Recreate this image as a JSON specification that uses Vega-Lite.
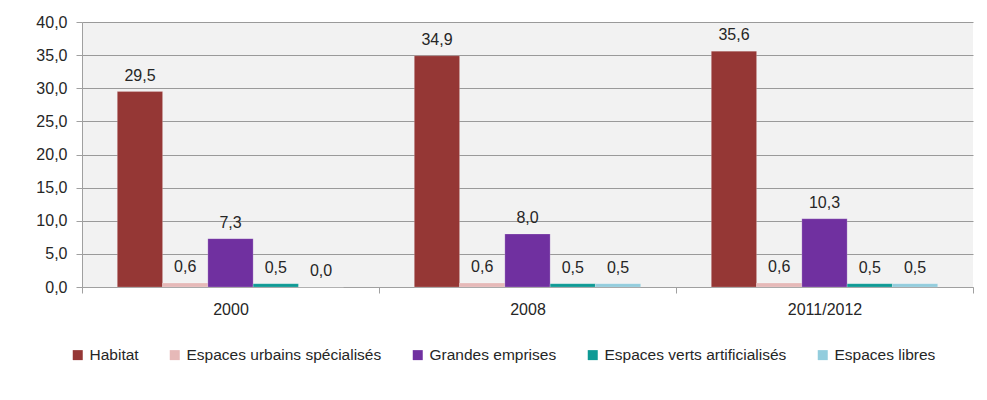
{
  "$schema": "https://vega.github.io/schema/vega-lite/v6.json",
  "autosize": {"type": "none"},
  "padding": {"left": 82, "top": 22, "right": 14, "bottom": 113},
  "width": 891,
  "height": 265,
  "background": "white",
  "data": {
    "values": [
      {"annee": "2000", "type": "Habitat", "valeur": 29.5},
      {"annee": "2000", "type": "Espaces urbains spécialisés", "valeur": 0.6},
      {"annee": "2000", "type": "Grandes emprises", "valeur": 7.3},
      {"annee": "2000", "type": "Espaces verts artificialisés", "valeur": 0.5},
      {"annee": "2000", "type": "Espaces libres", "valeur": 0.0},
      {"annee": "2008", "type": "Habitat", "valeur": 34.9},
      {"annee": "2008", "type": "Espaces urbains spécialisés", "valeur": 0.6},
      {"annee": "2008", "type": "Grandes emprises", "valeur": 8.0},
      {"annee": "2008", "type": "Espaces verts artificialisés", "valeur": 0.5},
      {"annee": "2008", "type": "Espaces libres", "valeur": 0.5},
      {"annee": "2011/2012", "type": "Habitat", "valeur": 35.6},
      {"annee": "2011/2012", "type": "Espaces urbains spécialisés", "valeur": 0.6},
      {"annee": "2011/2012", "type": "Grandes emprises", "valeur": 10.3},
      {"annee": "2011/2012", "type": "Espaces verts artificialisés", "valeur": 0.5},
      {"annee": "2011/2012", "type": "Espaces libres", "valeur": 0.5}
    ]
  },
  "encoding": {
    "x": {
      "field": "annee", "type": "nominal", "title": null,
      "scale": {"paddingInner": 0, "paddingOuter": 0},
      "axis": {"labelAngle": 0, "tickBand": "extent", "tickSize": 6, "labelPadding": 8, "domainColor": "#a0a0a0", "tickColor": "#a0a0a0", "grid": false}
    },
    "xOffset": {
      "field": "type", "type": "nominal",
      "sort": ["Habitat", "Espaces urbains spécialisés", "Grandes emprises", "Espaces verts artificialisés", "Espaces libres"],
      "scale": {"paddingInner": 0, "paddingOuter": 0.78}
    },
    "y": {
      "field": "valeur", "type": "quantitative", "title": null,
      "scale": {"domain": [0, 40], "nice": false},
      "axis": {"values": [0, 5, 10, 15, 20, 25, 30, 35, 40], "format": ".1f", "tickSize": 6, "labelPadding": 9, "domainColor": "#a0a0a0", "tickColor": "#a0a0a0", "gridColor": "#9a9a9a", "gridOpacity": 1}
    }
  },
  "layer": [
    {
      "mark": {"type": "bar", "stroke": "white", "strokeWidth": 0.5, "strokeOpacity": 0.4},
      "encoding": {
        "color": {
          "field": "type", "type": "nominal", "title": null,
          "sort": ["Habitat", "Espaces urbains spécialisés", "Grandes emprises", "Espaces verts artificialisés", "Espaces libres"],
          "scale": {
            "domain": ["Habitat", "Espaces urbains spécialisés", "Grandes emprises", "Espaces verts artificialisés", "Espaces libres"],
            "range": ["#953735", "#e6b9b8", "#7030a0", "#0e9a95", "#93cddd"]
          },
          "legend": {
            "orient": "none", "direction": "horizontal", "legendX": -12, "legendY": 325,
            "symbolType": "square", "symbolSize": 100, "symbolStrokeWidth": 0,
            "labelOffset": 4, "columnPadding": 28, "labelFontSize": 15.5, "labelLimit": 0, "labelColor": "#262626", "labelFont": "Liberation Sans"
          }
        }
      }
    },
    {
      "mark": {"type": "text", "baseline": "alphabetic", "dy": -11, "fontSize": 16, "font": "Liberation Sans", "color": "#262626"},
      "encoding": {
        "text": {"field": "valeur", "type": "quantitative", "format": ".1f"}
      }
    }
  ],
  "config": {
    "locale": {"number": {"decimal": ",", "thousands": " ", "grouping": [3], "currency": ["", " €"]}},
    "view": {"fill": "#f2f2f2", "stroke": null},
    "axis": {"labelFont": "Liberation Sans", "labelFontSize": 16, "labelColor": "#262626"}
  }
}
